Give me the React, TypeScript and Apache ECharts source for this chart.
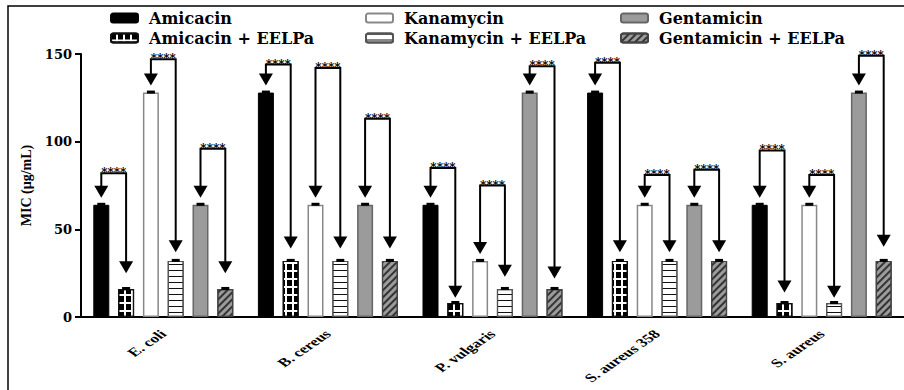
import React, { useEffect, useRef } from "react";
import * as echarts from "echarts";

// ---- data ----
const categories = ["E. coli", "B. cereus", "P. vulgaris", "S. aureus 358", "S. aureus"];
const amicacin = [64, 128, 64, 128, 64];
const amicacinEELPa = [16, 32, 8, 32, 8];
const kanamycin = [128, 64, 32, 64, 64];
const kanamycinEELPa = [32, 32, 16, 32, 8];
const gentamicin = [64, 64, 128, 64, 128];
const gentamicinEELPa = [16, 32, 16, 32, 32];

// significance bracket heights (y value of horizontal line)
const amicacinBracket = [82, 144, 85, 145, 95];
const kanamycinBracket = [147, 142, 75, 81, 81];
const gentamicinBracket = [96, 113, 143, 84, 149];
// value where right-hand arrow tip ends
const amicacinTip = [25, 39, 11, 37, 14];
const kanamycinTip = [37, 39, 23, 37, 11];
const gentamicinTip = [25, 39, 22, 37, 40];

const yTicks = [0, 50, 100, 150];
const sigLabel = "****";

const seriesNames = [
  "Amicacin",
  "Amicacin + EELPa",
  "Kanamycin",
  "Kanamycin + EELPa",
  "Gentamicin",
  "Gentamicin + EELPa",
];
const seriesValues = [amicacin, amicacinEELPa, kanamycin, kanamycinEELPa, gentamicin, gentamicinEELPa];

// ---- style constants ----
const BAR_W = 16;
const GAP = 8.8;
const PITCH = BAR_W + GAP;
const SERIF = "DejaVu Serif";
const TIMES = "Liberation Serif";
const GRAY = "#9b9b9b";
const LABEL_ROT = Math.PI / 4;
const STRETCH = 1.45;

const styles: any[] = [
  { color: "#000", borderColor: "#000", borderWidth: 1 },
  {
    color: "#fff",
    borderColor: "#111",
    borderWidth: 1.2,
    decal: { symbol: "rect", symbolSize: 1, color: "#000", dashArrayX: [5, 1.1], dashArrayY: [5.5, 1.1] },
  },
  { color: "#fff", borderColor: "#888", borderWidth: 1.5 },
  {
    color: "#fff",
    borderColor: "#555",
    borderWidth: 1.2,
    decal: { symbol: "rect", symbolSize: 1, color: "#111", dashArrayX: [1, 0], dashArrayY: [1, 5] },
  },
  { color: GRAY, borderColor: "#666", borderWidth: 1.5 },
  {
    color: GRAY,
    borderColor: "#444",
    borderWidth: 1.2,
    decal: {
      symbol: "rect",
      symbolSize: 1,
      color: "#333",
      dashArrayX: [1, 0],
      dashArrayY: [1.2, 2.6],
      rotation: -Math.PI / 4,
    },
  },
];

const pairs = [
  { li: 0, left: amicacin, line: amicacinBracket, tip: amicacinTip },
  { li: 2, left: kanamycin, line: kanamycinBracket, tip: kanamycinTip },
  { li: 4, left: gentamicin, line: gentamicinBracket, tip: gentamicinTip },
];

const AH = 12; // arrow head height
const AW = 7; // arrow half width

function renderBrackets(params: any, api: any) {
  const c = api.value(0);
  const base = api.coord([c, 0]);
  const cx = base[0];
  const children: any[] = [];
  // category label (rotated, horizontally stretched like the reference)
  children.push({
    type: "group",
    x: cx,
    y: base[1] + 15,
    scaleX: STRETCH,
    children: [
      {
        type: "text",
        x: 0,
        y: 0,
        rotation: LABEL_ROT,
        style: {
          text: categories[c],
          align: "right",
          verticalAlign: "middle",
          fontFamily: TIMES,
          fontWeight: "bold",
          fontSize: 12,
          fill: "#000",
        },
      },
    ],
  });
  seriesValues.forEach((arr, i) => {
    const x = cx + (i - 2.5) * PITCH;
    const y = api.coord([c, arr[c]])[1];
    children.push({
      type: "rect",
      shape: { x: x - 4, y: y - 2, width: 8, height: 3 },
      style: { fill: "#000" },
    });
  });
  pairs.forEach((p) => {
    const xl = cx + (p.li - 2.5) * PITCH;
    const xr = cx + (p.li + 1 - 2.5) * PITCH;
    const yLine = api.coord([c, p.line[c]])[1];
    const yTipL = api.coord([c, p.left[c]])[1] - 7;
    const yTipR = api.coord([c, p.tip[c]])[1];
    children.push({
      type: "text",
      x: (xl + xr) / 2,
      y: yLine + 6,
      style: {
        text: sigLabel,
        align: "center",
        verticalAlign: "bottom",
        fontFamily: SERIF,
        fontWeight: "bold",
        fontSize: 12,
        fill: "#000",
      },
    });
    children.push({
      type: "polyline",
      shape: {
        points: [
          [xl, yTipL - AH + 1],
          [xl, yLine],
          [xr, yLine],
          [xr, yTipR - AH + 1],
        ],
      },
      style: { stroke: "#000", lineWidth: 2, fill: null },
    });
    children.push({
      type: "polygon",
      shape: { points: [[xl - AW, yTipL - AH], [xl + AW, yTipL - AH], [xl, yTipL]] },
      style: { fill: "#000" },
    });
    children.push({
      type: "polygon",
      shape: { points: [[xr - AW, yTipR - AH], [xr + AW, yTipR - AH], [xr, yTipR]] },
      style: { fill: "#000" },
    });
  });
  return { type: "group", children };
}

const legendBase = {
  orient: "vertical",
  top: 5,
  itemWidth: 27,
  itemHeight: 9,
  itemGap: 4,
  textStyle: {
    fontFamily: SERIF,
    fontWeight: "bold",
    fontSize: 16,
    color: "#000",
    lineHeight: 16,
    padding: [0, 0, 0, 6],
  },
};

export default function App() {
  const ref = useRef<HTMLDivElement>(null);
  useEffect(() => {
    if (!ref.current) return;
    const chart = echarts.init(ref.current, null, { renderer: "svg" });
    const option: any = {
      animation: false,
      backgroundColor: "#fff",
      textStyle: { fontFamily: SERIF },
      graphic: [
        {
          type: "rect",
          z: -10,
          shape: { x: 8, y: 6, width: 1200, height: 1200 },
          style: { fill: "none", stroke: "#000", lineWidth: 1.5 },
        },
      ],
      legend: [
        { ...legendBase, left: 105, data: [seriesNames[0], seriesNames[1]] },
        { ...legendBase, left: 360, data: [seriesNames[2], seriesNames[3]] },
        { ...legendBase, left: 615, data: [seriesNames[4], seriesNames[5]] },
      ],
      grid: { left: 81, right: -2, top: 54, bottom: 73, containLabel: false },
      xAxis: {
        type: "category",
        data: categories,
        axisLine: { lineStyle: { color: "#000", width: 2 } },
        axisTick: { alignWithLabel: true, length: 5, lineStyle: { color: "#000", width: 2 } },
        axisLabel: { show: false },
      },
      yAxis: {
        type: "value",
        min: 0,
        max: yTicks[yTicks.length - 1],
        interval: yTicks[1] - yTicks[0],
        name: "MIC (µg/mL)",
        nameLocation: "middle",
        nameGap: 44,
        nameTextStyle: {
          fontFamily: TIMES,
          fontWeight: "bold",
          fontSize: 14,
          color: "#000",
        },
        splitLine: { show: false },
        axisLine: { show: true, lineStyle: { color: "#000", width: 2 } },
        axisTick: { show: true, length: 6, lineStyle: { color: "#000", width: 2 } },
        axisLabel: {
          margin: 9,
          fontFamily: SERIF,
          fontWeight: "bold",
          fontSize: 13,
          color: "#000",
        },
      },
      series: [
        ...seriesNames.map((name, i) => ({
          name,
          type: "bar",
          data: seriesValues[i],
          barWidth: BAR_W,
          barGap: (GAP / BAR_W) * 100 + "%",
          itemStyle: styles[i],
          emphasis: { disabled: true },
        })),
        {
          type: "custom",
          name: "brackets",
          data: categories.map((_, i) => [i]),
          renderItem: renderBrackets,
          clip: false,
          z: 10,
          silent: true,
        },
      ],
    };
    chart.setOption(option);
    return () => chart.dispose();
  }, []);
  return (
    <div
      ref={ref}
      style={{ position: "fixed", left: 0, top: 0, width: 904, height: 390, background: "#fff" }}
    />
  );
}
